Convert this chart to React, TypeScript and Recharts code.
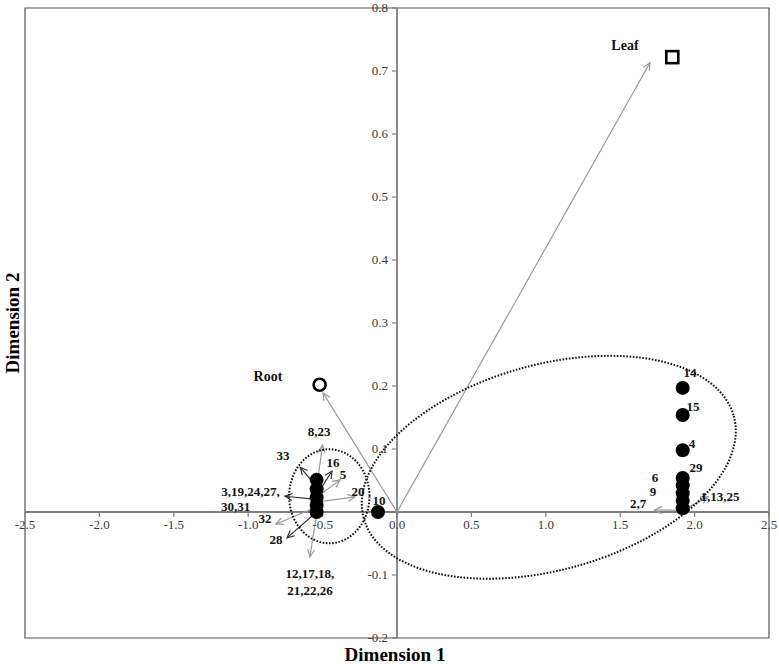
import { ScatterChart, Scatter, XAxis, YAxis, ReferenceLine, ReferenceDot, ReferenceArea } from 'recharts'

const W = 779
const H = 664
const MARGIN = { top: 8, right: 10, bottom: 26, left: 25 }
const X_DOMAIN: [number, number] = [-2.5, 2.5]
const Y_DOMAIN: [number, number] = [-0.2, 0.8]
const PX_PER_X = (W - MARGIN.left - MARGIN.right) / (X_DOMAIN[1] - X_DOMAIN[0])

const SERIF = '"Liberation Serif", "Times New Roman", serif'

const xTicks = [-2.5, -2.0, -1.5, -1.0, -0.5, 0.0, 0.5, 1.0, 1.5, 2.0, 2.5]
const yTicks = [-0.2, -0.1, 0.1, 0.2, 0.3, 0.4, 0.5, 0.6, 0.7, 0.8]

// genotypes (filled dots)
const leftGroup = [
  { x: -0.54, y: 0.051 },
  { x: -0.54, y: 0.036 },
  { x: -0.54, y: 0.023 },
  { x: -0.54, y: 0.011 },
  { x: -0.54, y: 0.0 },
]
const isolated = [{ x: -0.128, y: 0.0 }]
const rightGroup = [
  { x: 1.92, y: 0.197 },
  { x: 1.92, y: 0.154 },
  { x: 1.92, y: 0.098 },
  { x: 1.92, y: 0.054 },
  { x: 1.92, y: 0.042 },
  { x: 1.92, y: 0.03 },
  { x: 1.92, y: 0.018 },
  { x: 1.92, y: 0.006 },
]

// tissues
const leaf = [{ x: 1.85, y: 0.722 }]
const root = [{ x: -0.52, y: 0.202 }]

// vectors: start, end, tone
const vectors = [
  { x1: 0, y1: 0, x2: 1.7, y2: 0.713, tone: 'light' },
  { x1: 0, y1: 0, x2: -0.497, y2: 0.189, tone: 'light' },
  { x1: -0.54, y1: 0.04, x2: -0.5, y2: 0.106, tone: 'light' },
  { x1: -0.545, y1: 0.042, x2: -0.65, y2: 0.071, tone: 'dark' },
  { x1: -0.53, y1: 0.03, x2: -0.437, y2: 0.065, tone: 'dark' },
  { x1: -0.53, y1: 0.025, x2: -0.383, y2: 0.051, tone: 'light' },
  { x1: -0.54, y1: 0.02, x2: -0.753, y2: 0.025, tone: 'dark' },
  { x1: -0.53, y1: 0.016, x2: -0.282, y2: 0.024, tone: 'light' },
  { x1: -0.54, y1: 0.008, x2: -0.813, y2: -0.019, tone: 'light' },
  { x1: -0.54, y1: 0.0, x2: -0.739, y2: -0.041, tone: 'dark' },
  { x1: -0.54, y1: -0.002, x2: -0.585, y2: -0.071, tone: 'light' },
  { x1: 1.92, y1: 0.003, x2: 1.73, y2: 0.003, tone: 'light' },
  { x1: 1.92, y1: 0.003, x2: 2.09, y2: 0.024, tone: 'light' },
]

const pointLabels = [
  { x: -0.524, y: 0.127, text: '8,23' },
  { x: -0.766, y: 0.09, text: '33' },
  { x: -0.43, y: 0.079, text: '16' },
  { x: -0.363, y: 0.059, text: '5' },
  { x: -0.985, y: 0.032, text: '3,19,24,27,' },
  { x: -1.085, y: 0.008, text: '30,31' },
  { x: -0.887, y: -0.011, text: '32' },
  { x: -0.813, y: -0.044, text: '28' },
  { x: -0.585, y: -0.098, text: '12,17,18,' },
  { x: -0.585, y: -0.124, text: '21,22,26' },
  { x: -0.262, y: 0.032, text: '20' },
  { x: -0.121, y: 0.019, text: '10' },
  { x: 1.969, y: 0.221, text: '14' },
  { x: 1.989, y: 0.167, text: '15' },
  { x: 1.983, y: 0.108, text: '4' },
  { x: 2.009, y: 0.071, text: '29' },
  { x: 1.734, y: 0.054, text: '6' },
  { x: 1.72, y: 0.033, text: '9' },
  { x: 1.62, y: 0.013, text: '2,7' },
  { x: 2.17, y: 0.025, text: '1,13,25' },
]
const tissueLabels = [
  { x: 1.532, y: 0.741, text: 'Leaf' },
  { x: -0.867, y: 0.216, text: 'Root' },
]

// grouping ellipses: centre in data units, semi-axes in x units, tilt in degrees
const groups = [
  { x: -0.455, y: 0.025, rx: 0.27, ry: 0.316, tilt: 0 },
  { x: 1.02, y: 0.071, rx: 1.29, ry: 0.69, tilt: -15.5 },
]

const dot = (p: any) => <circle cx={p.cx} cy={p.cy} r={7} fill="#000" />

const arrowShape = (tone: string) => (p: any) => {
  const { x1, y1, x2, y2 } = p
  if (x1 == null) return null
  const color = tone === 'dark' ? '#333' : '#999'
  const ang = Math.atan2(y2 - y1, x2 - x1)
  const len = 8
  const spread = 0.45
  const ax = x2 - len * Math.cos(ang - spread)
  const ay = y2 - len * Math.sin(ang - spread)
  const bx = x2 - len * Math.cos(ang + spread)
  const by = y2 - len * Math.sin(ang + spread)
  return (
    <g>
      <line x1={x1} y1={y1} x2={x2} y2={y2} stroke={color} strokeWidth={1.2} />
      <polyline points={`${ax},${ay} ${x2},${y2} ${bx},${by}`} fill="none" stroke={color} strokeWidth={1.2} />
    </g>
  )
}

export default function App() {
  return (
    <div style={{ position: 'absolute', left: 0, top: 0, width: W, height: H, background: '#fff', fontFamily: SERIF }}>
      <ScatterChart width={W} height={H} margin={MARGIN}>
        <XAxis type="number" dataKey="x" domain={X_DOMAIN} hide allowDataOverflow />
        <YAxis type="number" dataKey="y" domain={Y_DOMAIN} hide allowDataOverflow />

        <ReferenceArea x1={X_DOMAIN[0]} x2={X_DOMAIN[1]} y1={Y_DOMAIN[0]} y2={Y_DOMAIN[1]} fill="none" fillOpacity={0} stroke="#555" strokeWidth={1.2} ifOverflow="visible" />
        <ReferenceLine x={0} stroke="#7f7f7f" strokeWidth={1.8} />
        <ReferenceLine y={0} stroke="#7f7f7f" strokeWidth={1.8} />

        {xTicks.map((t) => (
          <ReferenceDot
            key={'xt' + t}
            x={t}
            y={0}
            r={0}
            ifOverflow="visible"
            shape={(p: any) => (
              <g>
                <line x1={p.cx} y1={p.cy} x2={p.cx} y2={p.cy + 5} stroke="#7f7f7f" strokeWidth={1.2} />
                <text x={p.cx} y={p.cy + 17} textAnchor="middle" fontSize={13} fill="#3a3a3a" fontFamily={SERIF}>
                  {t.toFixed(1)}
                </text>
              </g>
            )}
          />
        ))}
        {yTicks.map((t) => (
          <ReferenceDot
            key={'yt' + t}
            x={0}
            y={t}
            r={0}
            ifOverflow="visible"
            shape={(p: any) => (
              <g>
                <line x1={p.cx - 5} y1={p.cy} x2={p.cx} y2={p.cy} stroke="#7f7f7f" strokeWidth={1.2} />
                <text x={p.cx - 9} y={p.cy + 4} textAnchor="end" fontSize={13} fill="#3a3a3a" fontFamily={SERIF}>
                  {t.toFixed(1)}
                </text>
              </g>
            )}
          />
        ))}

        {groups.map((g, i) => (
          <ReferenceDot
            key={'g' + i}
            x={g.x}
            y={g.y}
            r={0}
            ifOverflow="visible"
            shape={(p: any) => (
              <ellipse
                cx={p.cx}
                cy={p.cy}
                rx={g.rx * PX_PER_X}
                ry={g.ry * PX_PER_X}
                transform={`rotate(${g.tilt} ${p.cx} ${p.cy})`}
                fill="none"
                stroke="#111"
                strokeWidth={2}
                strokeDasharray="1.6 1.6"
              />
            )}
          />
        ))}

        {vectors.map((v, i) => (
          <ReferenceLine
            key={'v' + i}
            segment={[{ x: v.x1, y: v.y1 }, { x: v.x2, y: v.y2 }]}
            ifOverflow="visible"
            shape={arrowShape(v.tone)}
          />
        ))}

        <Scatter data={leftGroup} isAnimationActive={false} shape={dot} />
        <Scatter data={isolated} isAnimationActive={false} shape={dot} />
        <Scatter data={rightGroup} isAnimationActive={false} shape={dot} />
        <Scatter
          data={leaf}
          isAnimationActive={false}
          shape={(p: any) => <rect x={p.cx - 6} y={p.cy - 6} width={12} height={12} fill="#fff" stroke="#000" strokeWidth={2.6} />}
        />
        <Scatter
          data={root}
          isAnimationActive={false}
          shape={(p: any) => <circle cx={p.cx} cy={p.cy} r={6} fill="#fff" stroke="#000" strokeWidth={2.6} />}
        />
        <Scatter
          data={pointLabels}
          isAnimationActive={false}
          shape={(p: any) => (
            <text x={p.cx} y={p.cy + 4.5} textAnchor="middle" fontSize={13} fontWeight="bold" fill="#111" fontFamily={SERIF}>
              {p.payload.text}
            </text>
          )}
        />
        <Scatter
          data={tissueLabels}
          isAnimationActive={false}
          shape={(p: any) => (
            <text x={p.cx} y={p.cy + 5} textAnchor="middle" fontSize={14} fontWeight="bold" fill="#111" fontFamily={SERIF}>
              {p.payload.text}
            </text>
          )}
        />
      </ScatterChart>

      <div style={{ position: 'absolute', left: 0, width: 790, top: 646, textAlign: 'center', fontSize: 19, lineHeight: '17px', fontWeight: 'bold', color: '#000' }}>
        Dimension 1
      </div>
      <div
        style={{
          position: 'absolute',
          left: 12,
          top: 323,
          transform: 'translate(-50%, -50%) rotate(-90deg)',
          whiteSpace: 'nowrap',
          fontSize: 19,
          lineHeight: '19px',
          fontWeight: 'bold',
          color: '#000',
        }}
      >
        Dimension 2
      </div>
    </div>
  )
}
